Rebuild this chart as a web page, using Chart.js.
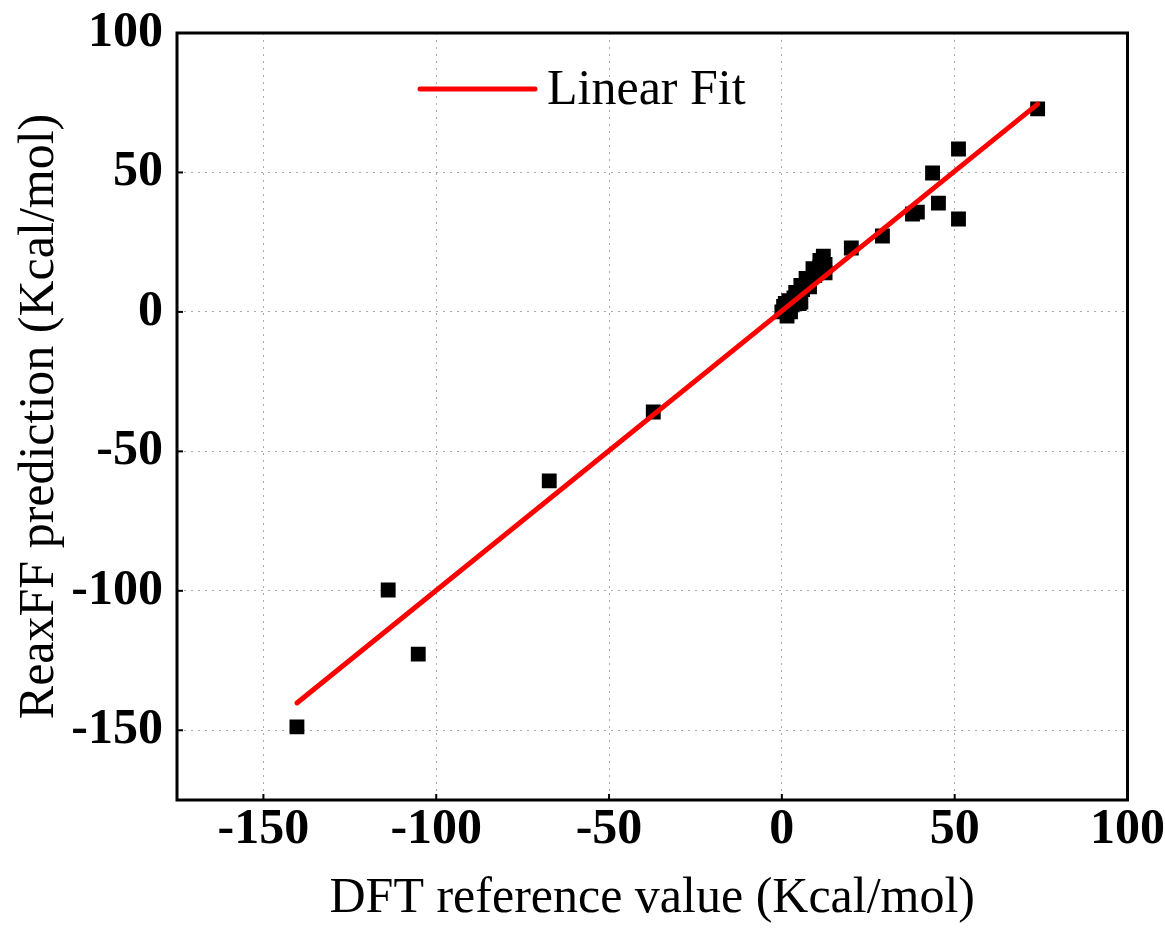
<!DOCTYPE html>
<html>
<head>
<meta charset="utf-8">
<script src="https://cdn.jsdelivr.net/npm/chart.js@4.4.1/dist/chart.umd.min.js"></script>
<style>
    html, body { margin: 0; padding: 0; background: #fff; }
    #wrap { width: 1165px; height: 934px; }
</style>
</head>
<body>
<div id="wrap"><canvas id="fitChart"></canvas></div>
<script>
// DFT reference values (x) and ReaxFF predictions (y), kcal/mol
const dftValues = [
    -140.3, -113.9, -105.2, -67.3, -37.2,
    0, 0.5, 1, 1.5, 2, 2.5, 3, 2, 3.5, 4, 5.5, 5, 5.5, 5, 6, 7, 7.5, 8, 8,
    9, 9.5, 10, 11, 11, 12, 12.5, 12.5,
    20.1, 29.1, 37.8, 39.2, 43.6, 45.3, 51.1, 51.1, 74
];
const reaxffValues = [
    -148.8, -99.7, -122.7, -60.6, -35.9,
    0, 2, 3, -1.5, 1, 0, 2.5, 4, 5, 7, 3.5, 3, 9.5, 6, 8, 12, 10, 11, 9,
    15.5, 13, 14, 18.5, 16, 20, 14, 17,
    22.9, 27.2, 35.1, 35.8, 49.8, 39.0, 58.4, 33.3, 72.8
];

// linear fit end points
const fitX = [-140.3, 74];
const fitY = [-140.2, 74.5];

// tick labels
const xTickValues = [-150, -100, -50, 0, 50, 100];
const yTickValues = [-150, -100, -50, 0, 50, 100];

const serif = "'Liberation Serif', 'Times New Roman', serif";

// frame + inward tick marks + legend
const framePlugin = {
    id: 'frame',
    afterDraw(chart) {
        const ctx = chart.ctx;
        const a = chart.chartArea;
        ctx.save();
        ctx.strokeStyle = '#000';
        ctx.lineWidth = 3;
        ctx.strokeRect(a.left, a.top, a.right - a.left, a.bottom - a.top);

        ctx.lineWidth = 2;
        const xs = chart.scales.x, ys = chart.scales.y;
        xs.ticks.forEach(t => {
            const px = xs.getPixelForValue(t.value);
            ctx.beginPath();
            ctx.moveTo(px, a.bottom);
            ctx.lineTo(px, a.bottom - 6);
            ctx.stroke();
        });
        ys.ticks.forEach(t => {
            const py = ys.getPixelForValue(t.value);
            ctx.beginPath();
            ctx.moveTo(a.left, py);
            ctx.lineTo(a.left + 6, py);
            ctx.stroke();
        });

        // legend
        const lx = 420, ly = 89;
        ctx.strokeStyle = '#ff0000';
        ctx.lineWidth = 5;
        ctx.lineCap = 'round';
        ctx.beginPath();
        ctx.moveTo(lx, ly);
        ctx.lineTo(lx + 115, ly);
        ctx.stroke();
        ctx.fillStyle = '#000';
        ctx.font = '50px ' + serif;
        ctx.textBaseline = 'middle';
        ctx.textAlign = 'left';
        ctx.fillText('Linear Fit', lx + 127, ly + 2);
        ctx.restore();
    }
};

document.addEventListener('DOMContentLoaded', function() {
    const ctx = document.getElementById('fitChart').getContext('2d');

    new Chart(ctx, {
        type: 'scatter',
        data: {
            datasets: [{
                label: 'Linear Fit',
                type: 'line',
                data: fitX.map((x, i) => ({ x: x, y: fitY[i] })),
                borderColor: '#ff0000',
                borderWidth: 5,
                borderCapStyle: 'round',
                pointRadius: 0,
                fill: false,
                order: 0
            }, {
                label: 'Data',
                data: dftValues.map((x, i) => ({ x: x, y: reaxffValues[i] })),
                pointStyle: 'rect',
                pointRadius: 10.5,
                pointHoverRadius: 10.5,
                backgroundColor: '#000',
                borderWidth: 0,
                order: 1
            }]
        },
        options: {
            responsive: true,
            maintainAspectRatio: false,
            animation: false,
            layout: {
                padding: { left: 0, right: 29, top: 25, bottom: 0 }
            },
            plugins: {
                legend: { display: false },
                tooltip: { enabled: false }
            },
            scales: {
                x: {
                    type: 'linear',
                    min: -175,
                    max: 100,
                    afterBuildTicks: scale => {
                        scale.ticks = xTickValues.map(v => ({ value: v }));
                    },
                    afterFit: scale => { scale.height = 134; },
                    grid: {
                        color: '#aaa',
                        lineWidth: 1,
                        tickLength: 0,
                        drawTicks: false
                    },
                    border: { display: false, dash: [2, 5] },
                    ticks: {
                        font: { family: serif, size: 50, weight: 'bold' },
                        color: '#000',
                        padding: 0,
                        maxRotation: 0
                    },
                    title: {
                        display: true,
                        text: 'DFT reference value (Kcal/mol)',
                        font: { family: serif, size: 50 },
                        color: '#000',
                        padding: { top: 0, bottom: 5 }
                    }
                },
                y: {
                    type: 'linear',
                    min: -175,
                    max: 100,
                    afterBuildTicks: scale => {
                        scale.ticks = yTickValues.map(v => ({ value: v }));
                    },
                    afterFit: scale => { scale.width = 177; },
                    grid: {
                        color: '#aaa',
                        lineWidth: 1,
                        tickLength: 0,
                        drawTicks: false
                    },
                    border: { display: false, dash: [2, 5] },
                    ticks: {
                        font: { family: serif, size: 50, weight: 'bold', lineHeight: 0.76 },
                        color: '#000',
                        padding: 14
                    },
                    title: {
                        display: true,
                        text: 'ReaxFF prediction (Kcal/mol)',
                        font: { family: serif, size: 50 },
                        color: '#000',
                        padding: { top: 10, bottom: 0 }
                    }
                }
            }
        },
        plugins: [framePlugin]
    });
});
</script>
</body>
</html>
